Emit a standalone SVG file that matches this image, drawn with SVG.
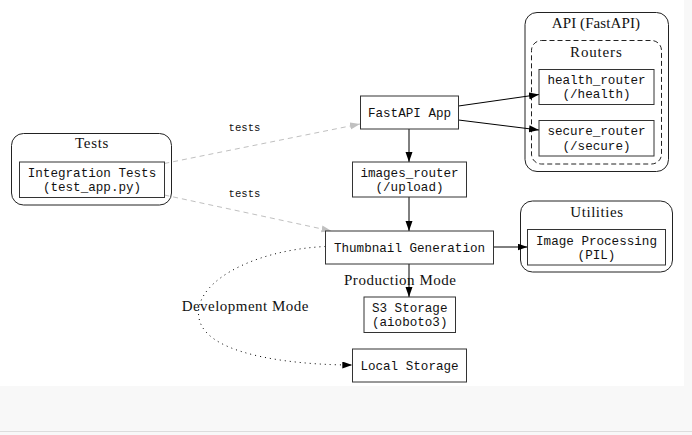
<svg xmlns="http://www.w3.org/2000/svg" width="692" height="435" viewBox="0 0 692 435">
<style>
.node rect{fill:#fff;stroke:#333;stroke-width:1}
.cl{fill:none;stroke:#222;stroke-width:1}
.mono{font-family:"Liberation Mono","DejaVu Sans Mono",monospace;font-size:12.6px;fill:#111;text-anchor:middle}
.serif{font-family:"Liberation Serif","DejaVu Serif",serif;font-size:15px;fill:#111;text-anchor:middle}
.lbl{font-family:"Liberation Mono","DejaVu Sans Mono",monospace;font-size:10.6px;fill:#111;text-anchor:middle}
.e{fill:none;stroke:#000;stroke-width:1}
.g{fill:none;stroke:#c0c0c0;stroke-width:1;stroke-dasharray:5,4}
.d{fill:none;stroke:#000;stroke-width:1;stroke-dasharray:1,4}
</style>
<defs>
<marker id="ab" markerUnits="userSpaceOnUse" markerWidth="11" markerHeight="8" refX="10" refY="3.5" orient="auto"><path d="M0,0 L10,3.5 L0,7 z" fill="#000"/></marker>
<marker id="ag" markerUnits="userSpaceOnUse" markerWidth="11" markerHeight="8" refX="10" refY="3.5" orient="auto"><path d="M0,0 L10,3.5 L0,7 z" fill="#c0c0c0"/></marker>
</defs>
<rect x="0" y="0" width="692" height="435" fill="#f8f8f8"/>
<rect x="0" y="0" width="684" height="386" fill="#fff"/>
<line x1="0" y1="431.5" x2="692" y2="431.5" stroke="#ddd" stroke-width="1"/>

<g id="cluster-tests">
<rect class="cl" x="11.5" y="133.5" width="160" height="71.5" rx="12"/>
<text class="serif" x="91.7" y="148" textLength="33.3" lengthAdjust="spacing">Tests</text>
</g>
<g id="cluster-api">
<rect class="cl" x="525" y="12.5" width="143.5" height="159" rx="12"/>
<text class="serif" x="595.9" y="27.5" textLength="88.3" lengthAdjust="spacing">API (FastAPI)</text>
</g>
<g id="cluster-routers">
<rect class="cl" x="531.5" y="40.5" width="130" height="123.5" rx="10" stroke-dasharray="5,3"/>
<text class="serif" x="595.9" y="56.5" textLength="51.7" lengthAdjust="spacing">Routers</text>
</g>
<g id="cluster-utilities">
<rect class="cl" x="520.5" y="201" width="152" height="71" rx="12"/>
<text class="serif" x="596.7" y="216.5" textLength="52.7" lengthAdjust="spacing">Utilities</text>
</g>

<g id="edges">
<path class="g" d="M164.3,163.5 L360,124" marker-end="url(#ag)"/>
<text class="lbl" x="244.5" y="130.5">tests</text>
<path class="g" d="M164.3,195 L331.5,231" marker-end="url(#ag)"/>
<text class="lbl" x="244.5" y="196.5">tests</text>
<path class="e" d="M409,129 L409,162" marker-end="url(#ab)"/>
<path class="e" d="M409,197 L409,231" marker-end="url(#ab)"/>
<path class="e" d="M458.5,106 L539,94.5" marker-end="url(#ab)"/>
<path class="e" d="M458.5,120 L539,130" marker-end="url(#ab)"/>
<path class="e" d="M493.5,247 L527.5,247" marker-end="url(#ab)"/>
<path class="e" d="M409,264 L409,297" marker-end="url(#ab)"/>
<text class="serif" x="400" y="284.8" textLength="112" lengthAdjust="spacing">Production Mode</text>
<path class="d" d="M325.5,246.5 C250,250 188,285 200,322 C212,357 300,365 352.3,365" marker-end="url(#ab)"/>
<text class="serif" x="245" y="310.5" textLength="126.7" lengthAdjust="spacing">Development Mode</text>
</g>

<g id="node-integration-tests" class="node">
<rect x="19.5" y="162" width="145" height="35.5"/>
<text class="mono" x="92" y="176.7">Integration Tests</text>
<text class="mono" x="92" y="191.3">(test_app.py)</text>
</g>
<g id="node-fastapi-app" class="node">
<rect x="360.5" y="96" width="98" height="33"/>
<text class="mono" x="409.5" y="116.8">FastAPI App</text>
</g>
<g id="node-health-router" class="node">
<rect x="539" y="69.5" width="115" height="35"/>
<text class="mono" x="596.5" y="83.8">health_router</text>
<text class="mono" x="596.5" y="98.4">(/health)</text>
</g>
<g id="node-secure-router" class="node">
<rect x="539" y="120.5" width="115" height="35.5"/>
<text class="mono" x="596.5" y="135.3">secure_router</text>
<text class="mono" x="596.5" y="149.9">(/secure)</text>
</g>
<g id="node-images-router" class="node">
<rect x="352.5" y="162" width="114" height="35"/>
<text class="mono" x="409.5" y="176.5">images_router</text>
<text class="mono" x="409.5" y="191">(/upload)</text>
</g>
<g id="node-thumbnail" class="node">
<rect x="325.5" y="231" width="168" height="33"/>
<text class="mono" x="409.5" y="251.8">Thumbnail Generation</text>
</g>
<g id="node-image-processing" class="node">
<rect x="527.5" y="229.5" width="138" height="35.5"/>
<text class="mono" x="596.5" y="244.5">Image Processing</text>
<text class="mono" x="596.5" y="259">(PIL)</text>
</g>
<g id="node-s3" class="node">
<rect x="364" y="297" width="91.5" height="35.5"/>
<text class="mono" x="409.7" y="311.7">S3 Storage</text>
<text class="mono" x="409.7" y="326.3">(aioboto3)</text>
</g>
<g id="node-local" class="node">
<rect x="352.5" y="349" width="114" height="33"/>
<text class="mono" x="409.5" y="369.8">Local Storage</text>
</g>
</svg>
